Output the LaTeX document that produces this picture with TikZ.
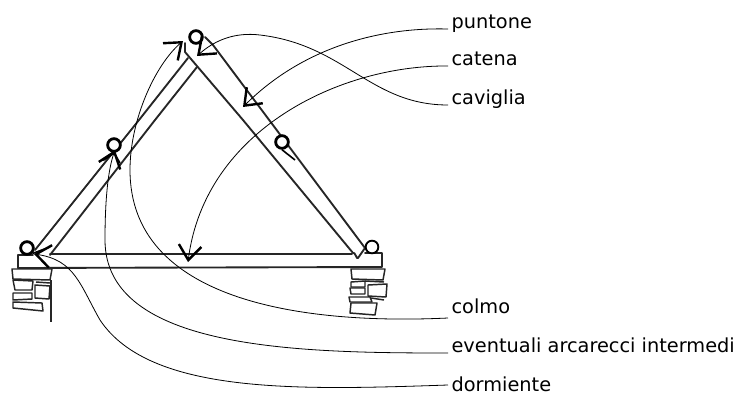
\documentclass[tikz,border=0pt]{standalone}
\usepackage{fontspec}
\setmainfont{DejaVu Sans}
\usetikzlibrary{arrows.meta}
\tikzset{
  px/.style={x=0.75pt,y=-0.75pt},
  beam/.style={line width=1.4pt,line cap=round,line join=round,black!85},
  stone/.style={line width=1.1pt,line join=round,black!85},
  peg/.style={circle,draw=black,line width=2.1pt,minimum size=9.5pt,inner sep=0pt},
  labeltext/.style={font=\fontsize{14.5pt}{15pt}\selectfont,inner xsep=2.5pt,inner ysep=0pt,text height=10pt,text depth=0pt,anchor=south west},
  leader/.style={line width=0.6pt,-{Straight Barb[length=11pt,width=17pt,line width=1.8pt]}}
}
\begin{document}
\begin{tikzpicture}[px]
\useasboundingbox (0,0) rectangle (738,396);
\fill[white] (0,0) rectangle (738,396);
% rafters
\draw[beam] (35,250) -- (139,120) -- (188,58);
\draw[beam] (50,255) -- (155,120) -- (197,67);
\draw[beam] (185,43) -- (185,52) -- (243,120) -- (353,253) to[out=50,in=-110] (358,258) -- (365,248);
\draw[beam] (205,37) -- (213,45) -- (365,248);
% tie beam
\draw[beam] (50,254) -- (352,254);
\draw[beam] (18,268) -- (382,267) -- (382,253) -- (365,253);
\draw[beam] (18,268) -- (18,255) -- (33,255);
% left stones
\draw[stone] (12,269) -- (52,269) -- (50,280) -- (13,279) -- cycle;
\draw[stone] (13,280) -- (33,281) -- (32,290) -- (15,290) -- cycle;
\draw[stone] (35,285) -- (50,286) -- (49,299) -- (35,298) -- cycle;
\draw[stone] (13,293) -- (32,293) -- (32,299) -- (13,300) -- cycle;
\draw[stone] (13,302) -- (42,303) -- (43,311) -- (13,308) -- cycle;
\draw[stone] (51,280) -- (51,322);
\draw[stone] (36,282) -- (50,283);
% right stones
\draw[stone] (351,269) -- (385,269) -- (383,280) -- (352,279) -- cycle;
\draw[stone] (351,282) -- (365,281) -- (365,287) -- (351,287) -- cycle;
\draw[stone] (350,288) -- (365,288) -- (365,294) -- (351,294) -- cycle;
\draw[stone] (368,285) -- (387,284) -- (386,297) -- (368,296) -- cycle;
\draw[stone] (349,297) -- (370,297) -- (372,302) -- (350,302) -- cycle;
\draw[stone] (351,303) -- (377,303) -- (375,315) -- (350,313) -- cycle;
\draw[stone] (371,298) -- (384,300);
\draw[stone] (365,281) -- (384,282);
% pegs
\node[peg,fill=white] (ptop) at (196,37) {};
\node[peg,fill=white] (pleft) at (114,145) {};
\node[peg,fill=white] (pright) at (282,142) {};
\node[peg,fill=white] (pdl) at (27,248) {};
\node[peg,fill=white,line width=1.4pt] (pdr) at (372,247) {};
\draw[line width=1.2pt] (pright.south) -- (295,160);
\draw[line width=1.8pt] (pleft.south) -- (103,160);
\draw[line width=1.2pt] (pleft.south) -- (120,163);
\draw[line width=1.2pt] (pdl.south east) -- (50,247);
% labels
\node[labeltext] (puntone) at (448,29) {puntone};
\node[labeltext] (catena) at (448,66) {catena};
\node[labeltext] (caviglia) at (448,105) {caviglia};
\node[labeltext,text depth=3pt] (colmo) at (448,318) {colmo};
\node[labeltext] (eventuali) at (448,353) {eventuali arcarecci intermedi};
\node[labeltext,anchor=west] (dormiente) at (448,385) {dormiente};
% targets
\coordinate (tpuntone) at (243,107);
\coordinate (tcatena) at (188,262);
\coordinate (tcaviglia) at (197,56);
\coordinate (tcolmo) at (183,41);
\coordinate (tevent) at (115,150);
\coordinate (tdorm) at (34,254);
% leaders
\draw[leader] (puntone.south west) .. controls (375,27) and (300,50) .. (tpuntone);
\draw[leader] (catena.south west) .. controls (340,65) and (205,130) .. (tcatena);
\draw[leader] (caviglia.south west) .. controls (370,105) and (345,45) .. (260,35) .. controls (235,32) and (215,40) .. (tcaviglia);
\draw[leader] (colmo.south west) .. controls (300,325) and (130,300) .. (130,170) .. controls (130,120) and (155,65) .. (tcolmo);
\draw[leader] (eventuali.south west) .. controls (300,353) and (105,350) .. (105,240) .. controls (105,200) and (108,170) .. (tevent);
\draw[leader] (dormiente.west) .. controls (300,390) and (150,395) .. (100,320) .. controls (80,285) and (75,260) .. (tdorm);
\end{tikzpicture}
\end{document}
